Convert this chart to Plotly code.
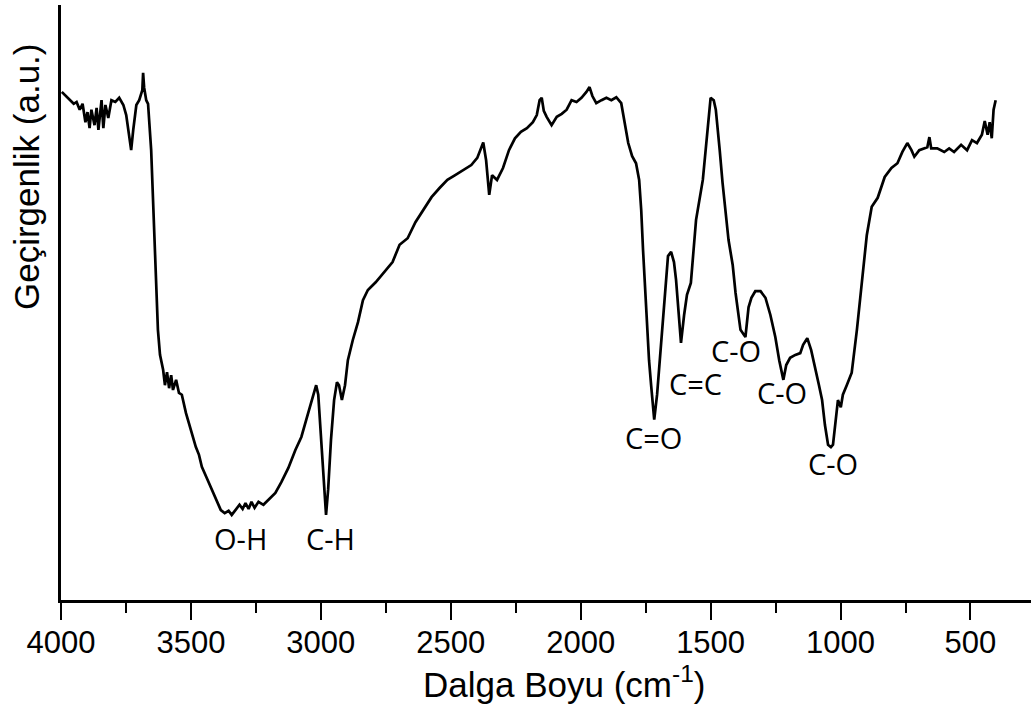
import plotly.graph_objects as go

wavenumber = [3997, 3982, 3967, 3951, 3940, 3928, 3917, 3906, 3898, 3890, 3883, 3871, 3863, 3856, 3844, 3837, 3829, 3818, 3806, 3791, 3776, 3760, 3749, 3737, 3730, 3722, 3710, 3699, 3687, 3684, 3680, 3672, 3665, 3653, 3642, 3634, 3627, 3619, 3607, 3600, 3592, 3584, 3576, 3569, 3557, 3546, 3535, 3519, 3500, 3481, 3469, 3458, 3439, 3420, 3401, 3385, 3370, 3355, 3343, 3328, 3313, 3301, 3290, 3278, 3267, 3255, 3240, 3221, 3202, 3175, 3152, 3125, 3098, 3075, 3056, 3037, 3018, 3010, 2999, 2988, 2980, 2972, 2961, 2949, 2938, 2930, 2919, 2907, 2896, 2877, 2857, 2838, 2819, 2789, 2758, 2724, 2697, 2666, 2636, 2605, 2574, 2544, 2513, 2483, 2452, 2421, 2398, 2375, 2364, 2352, 2341, 2322, 2299, 2276, 2253, 2230, 2207, 2184, 2169, 2158, 2150, 2142, 2131, 2112, 2092, 2073, 2054, 2035, 2016, 1997, 1978, 1966, 1955, 1940, 1920, 1901, 1882, 1863, 1844, 1833, 1817, 1802, 1787, 1775, 1767, 1760, 1748, 1737, 1729, 1717, 1706, 1691, 1679, 1664, 1652, 1641, 1633, 1622, 1614, 1602, 1591, 1576, 1556, 1530, 1515, 1500, 1488, 1480, 1465, 1454, 1431, 1415, 1404, 1385, 1366, 1354, 1343, 1328, 1308, 1289, 1270, 1251, 1236, 1220, 1209, 1194, 1174, 1155, 1144, 1128, 1113, 1098, 1083, 1071, 1060, 1048, 1037, 1029, 1018, 1010, 999, 991, 976, 957, 937, 918, 899, 880, 857, 830, 804, 781, 762, 743, 727, 716, 697, 666, 658, 651, 628, 601, 582, 563, 536, 513, 494, 475, 456, 445, 434, 426, 418, 411, 403]

transmittance = [85.4, 84.7, 84.0, 83.4, 83.7, 82.4, 83.4, 80.3, 82.0, 79.3, 82.4, 79.8, 82.7, 79.0, 84.0, 79.3, 83.2, 81.0, 84.0, 83.7, 84.4, 83.2, 81.5, 78.2, 75.6, 79.0, 83.2, 84.0, 85.7, 88.6, 86.1, 84.0, 83.4, 75.6, 63.9, 53.8, 45.4, 41.2, 38.7, 36.1, 38.3, 35.6, 37.8, 35.3, 37.0, 34.8, 34.5, 31.4, 28.6, 25.7, 24.4, 22.4, 20.5, 18.5, 16.8, 15.1, 14.6, 15.0, 14.3, 15.1, 16.0, 15.3, 16.3, 15.3, 16.5, 15.5, 16.5, 16.0, 16.8, 18.0, 19.8, 22.2, 25.2, 27.4, 30.3, 33.1, 36.1, 34.5, 26.9, 18.5, 14.3, 18.5, 26.9, 33.6, 36.6, 36.1, 33.6, 36.1, 40.3, 43.7, 46.7, 50.4, 52.1, 53.4, 55.1, 56.8, 59.7, 60.8, 63.5, 65.5, 67.7, 69.2, 70.6, 71.4, 72.3, 73.1, 74.3, 76.9, 73.9, 68.1, 71.4, 70.6, 72.6, 75.6, 77.6, 78.7, 79.3, 80.3, 81.5, 84.0, 84.4, 82.2, 81.2, 79.8, 81.2, 81.7, 82.4, 84.0, 83.7, 84.4, 85.4, 86.2, 84.7, 83.5, 84.0, 84.4, 84.0, 84.5, 83.5, 80.7, 76.8, 74.6, 73.4, 70.6, 65.5, 58.8, 48.2, 40.3, 36.1, 30.3, 34.5, 42.5, 50.4, 57.8, 58.5, 56.8, 53.8, 47.1, 43.2, 47.9, 51.3, 53.3, 63.9, 70.6, 78.0, 84.4, 84.0, 82.4, 75.6, 70.1, 60.5, 56.3, 51.6, 45.4, 44.2, 49.2, 50.8, 51.9, 51.9, 50.8, 47.9, 44.2, 40.3, 37.0, 39.5, 40.7, 41.2, 41.5, 42.9, 44.0, 42.0, 39.2, 36.1, 33.6, 29.4, 26.1, 25.7, 26.1, 30.3, 33.6, 32.4, 34.5, 36.1, 38.2, 45.4, 53.8, 61.3, 66.1, 67.6, 71.1, 72.6, 73.4, 75.3, 76.8, 75.6, 74.5, 75.6, 76.1, 77.8, 75.9, 75.9, 75.3, 75.9, 75.3, 76.5, 75.6, 77.3, 76.8, 78.2, 80.5, 78.2, 80.3, 77.6, 82.4, 84.0]

peak_labels = ["O-H", "C-H", "C=O", "C=C", "C-O", "C-O", "C-O"]
peak_x = [3309, 2961, 1721, 1560, 1404, 1224, 1029]
peak_y = [10.3, 10.3, 27.3, 36.4, 42.0, 34.8, 22.9]

x_ticks = [4000, 3500, 3000, 2500, 2000, 1500, 1000, 500]
x_minor_ticks = [3750, 3250, 2750, 2250, 1750, 1250, 750, 250]

fig = go.Figure()
fig.add_trace(go.Scatter(
    x=wavenumber, y=transmittance, mode="lines",
    line=dict(color="black", width=2.7), showlegend=False, hoverinfo="skip"))

for lab, px_, py_ in zip(peak_labels, peak_x, peak_y):
    fig.add_annotation(x=px_, y=py_, text=lab, showarrow=False,
                       font=dict(family="Open Sans", size=29, color="black"),
                       xanchor="center", yanchor="middle")

fig.add_annotation(xref="paper", yref="paper", x=(564 - 61) / 970, y=(600 - 682) / 595,
                   text="Dalga Boyu (cm<sup>-1</sup>)", showarrow=False,
                   font=dict(family="Liberation Sans", size=35, color="black"),
                   xanchor="center", yanchor="middle")
fig.add_annotation(xref="paper", yref="paper", x=(27 - 61) / 970, y=(600 - 177) / 595,
                   text="Geçirgenlik (a.u.)", showarrow=False, textangle=-90,
                   font=dict(family="Liberation Sans", size=35, color="black"),
                   xanchor="center", yanchor="middle")

fig.update_layout(
    width=1031, height=706,
    margin=dict(l=61, r=0, t=5, b=106),
    paper_bgcolor="white", plot_bgcolor="white",
    xaxis=dict(range=[4000, 267], tickvals=x_ticks, ticktext=[str(v) for v in x_ticks],
               ticks="outside", ticklen=17, tickwidth=2, tickcolor="black",
               ticklabelstandoff=-4,
               showline=True, linecolor="black", linewidth=2.5, showgrid=False,
               zeroline=False,
               tickfont=dict(family="Liberation Sans", size=31, color="black"),
               minor=dict(tickvals=x_minor_ticks, ticks="outside",
                          ticklen=10, tickwidth=2, tickcolor="black")),
    yaxis=dict(range=[0, 100], showline=True, linecolor="black", linewidth=2.5,
               showticklabels=False, ticks="", showgrid=False, zeroline=False),
)

fig.write_html("out.html", config={"displayModeBar": False},
               post_script="document.body.style.margin='0';document.body.style.overflow='hidden';")
